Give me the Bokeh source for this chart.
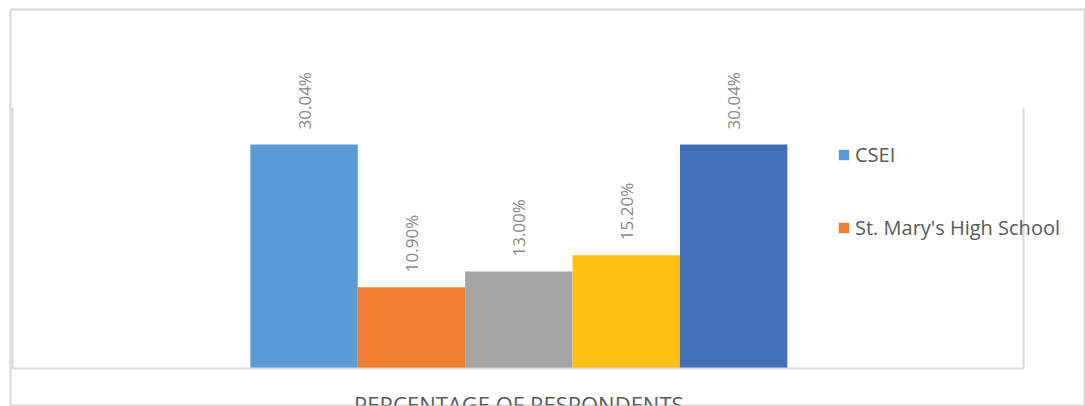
from math import pi
from bokeh.plotting import figure
from bokeh.models import (Range1d, ColumnDataSource, LinearAxis, Legend,
                          LegendItem, FixedTicker)
from bokeh.core.properties import value
from bokeh.embed import file_html
from bokeh.resources import INLINE

# ---- data ----
category = "PERCENTAGE OF RESPONDENTS"
series_values = [30.04, 10.90, 13.00, 15.20, 30.04]
series_labels = ["30.04%", "10.90%", "13.00%", "15.20%", "30.04%"]
legend_names = ["CSEI", "St. Mary's High School"]
colors = ["#5B9BD5", "#ED7D31", "#A5A5A5", "#FBC013", "#416FB6"]

# ---- layout ----
W, H = 1085, 406
# bar slots: index 0..4, one unit per bar; plot-area edges in the same units
x_pos = list(range(len(series_values)))
area_left, area_right = -2.714, 6.70      # inner plot area edges (x)
y_max = 35.0                              # inner plot area top (y)

p = figure(width=W, height=H, output_backend="svg", toolbar_location=None,
           x_range=Range1d(-2.733, 7.276), y_range=Range1d(-4.962, 48.14),
           x_axis_location=None, y_axis_location=None,
           min_border_left=10, min_border_right=0, min_border_top=9, min_border_bottom=1)
p.background_fill_color = "white"
p.border_fill_color = "white"
p.outline_line_color = "#d9d9d9"
p.outline_line_width = 2
p.xgrid.grid_line_color = None
p.ygrid.grid_line_color = None

src = ColumnDataSource(dict(x=x_pos, val=series_values, lab=series_labels, color=colors))
bars = p.vbar(x="x", top="val", width=1.0, source=src, fill_color="color", line_color=None)
p.text(x="x", y="val", text="lab", source=src,
       angle=pi / 2, text_align="left", text_baseline="middle", y_offset=-15,
       text_font=value("Open Sans"), text_font_size="17px", text_color="#8a8a8a")

# category axis (bottom line of plot area + category label)
mid = (x_pos[0] + x_pos[-1]) / 2
xaxis = LinearAxis(fixed_location=0, bounds=(area_left, area_right),
                   ticker=FixedTicker(ticks=[mid]),
                   major_label_overrides={mid: category},
                   major_tick_line_color=None, minor_tick_line_color=None,
                   axis_line_color="#d9d9d9", axis_line_width=2,
                   major_label_text_font="Open Sans", major_label_text_font_size="22px",
                   major_label_text_color="#595959", major_label_standoff=15)
p.add_layout(xaxis, "below")

for loc, side in ((area_left, "left"), (area_right, "right")):
    ax = LinearAxis(fixed_location=loc, bounds=(0, y_max), ticker=FixedTicker(ticks=[]),
                    major_tick_out=0, major_tick_in=0, major_label_standoff=0,
                    axis_line_color="#d9d9d9", axis_line_width=2)
    p.add_layout(ax, side)

# legend (only the two named series)
legend = Legend(items=[LegendItem(label=legend_names[0], renderers=[bars], index=0),
                       LegendItem(label=legend_names[1], renderers=[bars], index=1)],
                location=(827, 164), glyph_width=13, glyph_height=13, label_standoff=5,
                label_height=22, spacing=46, padding=0, margin=0,
                border_line_color=None, background_fill_alpha=0,
                label_text_font="Open Sans", label_text_font_size="20px",
                label_text_color="#595959")
p.add_layout(legend)

open("out.html", "w").write(file_html(p, INLINE))
